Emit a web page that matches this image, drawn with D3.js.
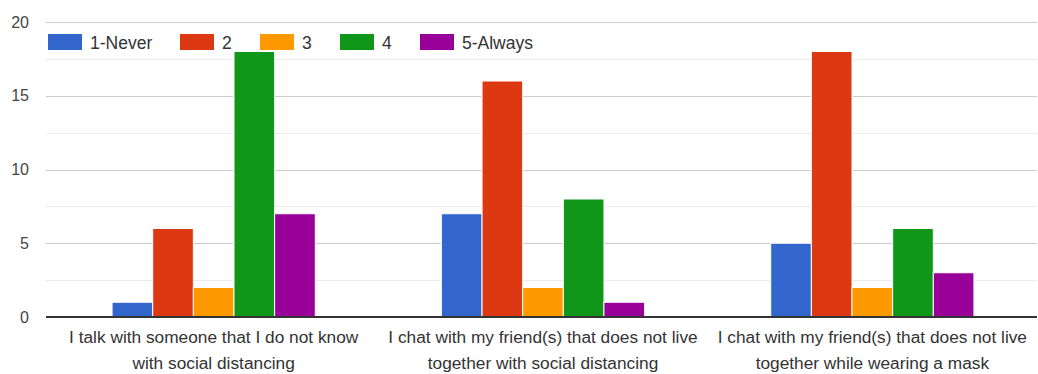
<!DOCTYPE html>
<html>
<head>
<meta charset="utf-8">
<script src="https://cdn.jsdelivr.net/npm/d3@7"></script>
<style>
  html, body { margin: 0; padding: 0; background: #fff; }
  svg { display: block; font-family: "Liberation Sans", Arial, sans-serif; }
</style>
</head>
<body>
<svg id="chart" width="1038" height="374"></svg>
<script>
// Survey responses: how often each behaviour happens (1 = never ... 5 = always)
const categories = [
  ["I talk with someone that I do not know", "with social distancing"],
  ["I chat with my friend(s) that does not live", "together with social distancing"],
  ["I chat with my friend(s) that does not live", "together while wearing a mask"]
];
const seriesNames = ["1-Never", "2", "3", "4", "5-Always"];
const seriesColors = ["#3366cc", "#dc3912", "#ff9900", "#109618", "#990099"];
const values = [
  [1, 6, 2, 18, 7],
  [7, 16, 2, 8, 1],
  [5, 18, 2, 6, 3]
];
const yTicks = [0, 5, 10, 15, 20];
const yMinorTicks = [2.5, 7.5, 12.5, 17.5];

const svg = d3.select("#chart");
const plot = { left: 49, right: 1037, top: 22, bottom: 317, gridLeft: 46 };
const FONT = "'Liberation Sans', Arial, sans-serif";

const x0 = d3.scaleBand()
  .domain(d3.range(categories.length))
  .range([plot.left, plot.right])
  .paddingInner(0.383)
  .paddingOuter(0.383 / 2);

const x1 = d3.scaleBand()
  .domain(d3.range(seriesNames.length))
  .range([0, x0.bandwidth()]);

const y = d3.scaleLinear().domain([0, 20]).range([plot.bottom, plot.top]);

// minor gridlines
svg.append("g").selectAll("line").data(yMinorTicks).join("line")
  .attr("x1", plot.gridLeft).attr("x2", plot.right)
  .attr("y1", d => Math.round(y(d)) + 0.5).attr("y2", d => Math.round(y(d)) + 0.5)
  .attr("stroke", "#ebebeb").attr("stroke-width", 1);

// major gridlines
svg.append("g").selectAll("line").data(yTicks.filter(d => d !== 0)).join("line")
  .attr("x1", plot.gridLeft).attr("x2", plot.right)
  .attr("y1", d => Math.round(y(d)) + 0.5).attr("y2", d => Math.round(y(d)) + 0.5)
  .attr("stroke", "#cccccc").attr("stroke-width", 1);

// y axis labels
const yAxis = d3.axisLeft(y).tickValues(yTicks).tickSize(0).tickPadding(0);
const yAxisG = svg.append("g").attr("transform", `translate(29,0)`).call(yAxis);
yAxisG.select(".domain").remove();
yAxisG.selectAll("text")
  .attr("fill", "#444").attr("font-size", 16)
  .attr("font-family", FONT);

// bars
const groups = svg.append("g").selectAll("g").data(values).join("g")
  .attr("transform", (d, i) => `translate(${x0(i)},0)`);
groups.selectAll("rect").data(d => d).join("rect")
  .attr("x", (d, j) => x1(j))
  .attr("width", x1.bandwidth())
  .attr("y", d => y(d))
  .attr("height", d => y(0) - y(d))
  .attr("fill", (d, j) => seriesColors[j])
  .attr("stroke", "#fff").attr("stroke-width", 1);

// baseline
svg.append("line")
  .attr("x1", plot.gridLeft).attr("x2", plot.right)
  .attr("y1", y(0)).attr("y2", y(0))
  .attr("stroke", "#333").attr("stroke-width", 2);

// category labels (two lines each)
const xAxis = d3.axisBottom(x0).tickSize(0).tickFormat(() => "");
const xAxisG = svg.append("g").attr("transform", `translate(0,${plot.bottom})`).call(xAxis);
xAxisG.select(".domain").remove();
xAxisG.selectAll(".tick text").each(function(d) {
  const t = d3.select(this).text(null)
    .attr("y", 0).attr("dy", null)
    .attr("fill", "#333").attr("font-size", 17.3)
    .attr("font-family", FONT);
  categories[d].forEach((line, k) => {
    t.append("tspan").attr("x", 0).attr("y", 26 + k * 26).text(line);
  });
});

// legend
const legendX = [48, 180, 260, 340, 420];
const legend = svg.append("g").selectAll("g").data(seriesNames).join("g")
  .attr("transform", (d, i) => `translate(${legendX[i]},34)`);
legend.append("rect")
  .attr("width", 34).attr("height", 16)
  .attr("fill", (d, i) => seriesColors[i]);
legend.append("text")
  .attr("x", 42).attr("y", 15)
  .attr("font-size", 17.5).attr("fill", "#333")
  .attr("font-family", FONT)
  .text(d => d);
</script>
</body>
</html>
